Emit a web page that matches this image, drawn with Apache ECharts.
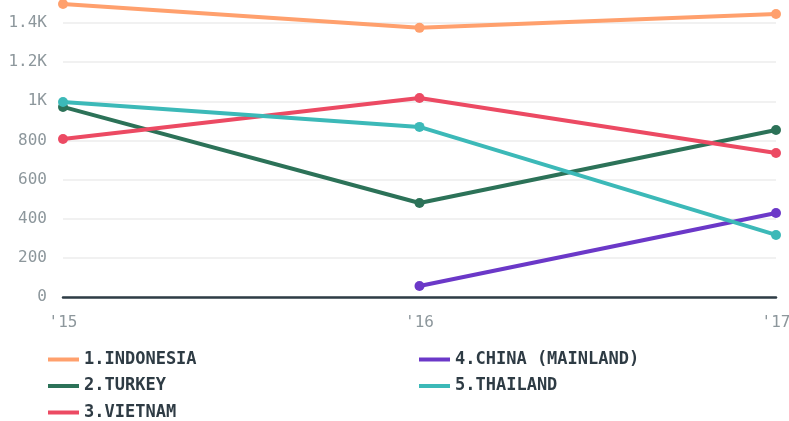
<!DOCTYPE html>
<html>
<head>
<meta charset="utf-8">
<script src="https://cdn.jsdelivr.net/npm/echarts@6/dist/echarts.min.js"></script>
<style>
  html, body { margin: 0; padding: 0; background: #fff; }
  #chart { width: 789px; height: 421px; }
</style>
</head>
<body>
<div id="chart"></div>
<script>
  // years on the x axis
  var years = ["'15", "'16", "'17"];
  var names = ['1.INDONESIA', '2.TURKEY', '3.VIETNAM', '4.CHINA (MAINLAND)', '5.THAILAND'];
  var indonesia = [1497, 1375, 1446];
  var turkey = [971, 480, 853];
  var vietnam = [807, 1017, 736];
  var china = [null, 56, 429];
  var thailand = [996, 869, 317];
  var colors = ['#ffa06d', '#2c7258', '#ec4a63', '#6b38c8', '#3cb9b8'];

  var myChart = echarts.init(document.getElementById('chart'));

  function line(name, data, color) {
    return {
      name: name,
      type: 'line',
      data: data,
      color: color,
      symbol: 'circle',
      symbolSize: 10,
      clip: false,
      lineStyle: { width: 4, color: color },
      itemStyle: { color: color }
    };
  }

  var legendText = {
    fontFamily: 'DejaVu Sans Mono',
    fontWeight: 'bold',
    fontSize: 17,
    color: '#2e3b44'
  };

  var option = {
    animation: false,
    grid: { left: 63, right: 13, top: 3.4, bottom: 124, outerBoundsMode: 'none' },
    legend: [{
      data: names.slice(0, 3),
      orient: 'vertical',
      left: 48, top: 351, height: 75, padding: 0,
      icon: 'rect', itemWidth: 31, itemHeight: 4, itemGap: 9.5,
      textStyle: legendText
    }, {
      data: names.slice(3),
      orient: 'vertical',
      left: 419, top: 351, height: 75, padding: 0,
      icon: 'rect', itemWidth: 31, itemHeight: 4, itemGap: 9.5,
      textStyle: legendText
    }],
    xAxis: {
      type: 'category',
      data: years,
      boundaryGap: false,
      axisLine: { lineStyle: { color: '#2e3d46', width: 2.5 } },
      axisTick: { show: false },
      axisLabel: {
        margin: 18,
        fontFamily: 'DejaVu Sans Mono',
        fontSize: 16,
        color: '#8d979c'
      }
    },
    yAxis: {
      type: 'value',
      min: 0, max: 1500, interval: 200,
      axisLine: { show: false },
      axisTick: { show: false },
      splitLine: { showMaxLine: false, lineStyle: { color: '#ececec', width: 1.5 } },
      axisLabel: {
        showMaxLabel: false,
        margin: 16,
        fontFamily: 'DejaVu Sans Mono',
        fontSize: 16,
        color: '#8d979c',
        formatter: function (v) {
          return v >= 1000 ? (v / 1000) + 'K' : v;
        }
      }
    },
    series: [
      line(names[0], indonesia, colors[0]),
      line(names[1], turkey, colors[1]),
      line(names[2], vietnam, colors[2]),
      line(names[3], china, colors[3]),
      line(names[4], thailand, colors[4])
    ]
  };
  myChart.setOption(option, true);
</script>
</body>
</html>
